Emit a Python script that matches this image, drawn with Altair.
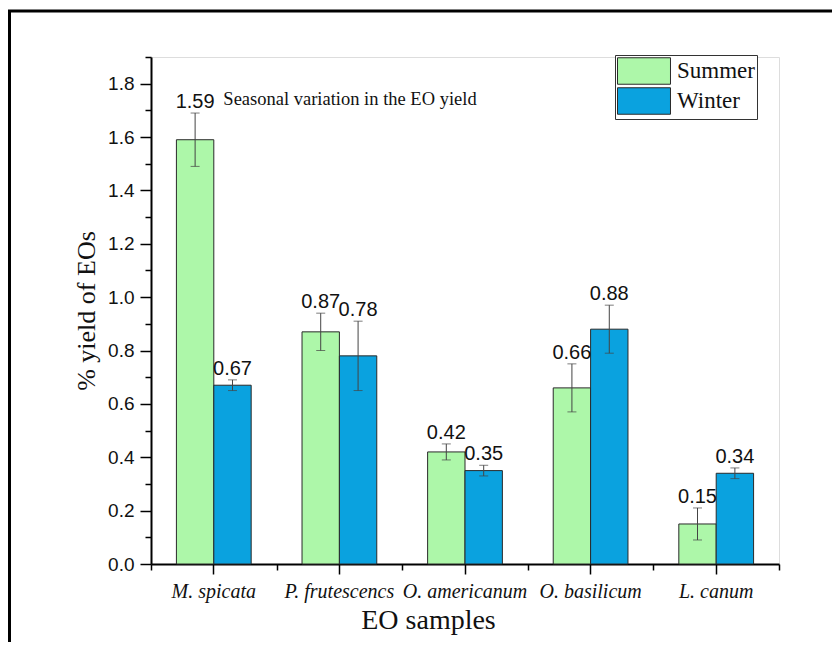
import altair as alt
import pandas as pd

categories = ["M. spicata", "P. frutescencs", "O. americanum", "O. basilicum", "L. canum"]
seasons = ["Summer", "Winter"]
summer = [1.59, 0.87, 0.42, 0.66, 0.15]
winter = [0.67, 0.78, 0.35, 0.88, 0.34]
summer_err = [0.10, 0.07, 0.03, 0.09, 0.06]
winter_err = [0.02, 0.13, 0.02, 0.09, 0.02]
colors = ["#adf7a9", "#0aa2df"]
y_major = [0.0, 0.2, 0.4, 0.6, 0.8, 1.0, 1.2, 1.4, 1.6, 1.8]
y_minor = [0.1, 0.3, 0.5, 0.7, 0.9, 1.1, 1.3, 1.5, 1.7, 1.9]
chart_title = "Seasonal variation in the EO yield"

rows = []
for i, c in enumerate(categories):
    rows.append(dict(sample=c, season="Summer", value=summer[i], err=summer_err[i]))
    rows.append(dict(sample=c, season="Winter", value=winter[i], err=winter_err[i]))
df = pd.DataFrame(rows)
df["lo"] = df["value"] - df["err"]
df["hi"] = df["value"] + df["err"]
df["label"] = df["value"].map(lambda v: f"{v:.2f}")

SERIF = "Liberation Serif"
SANS = "Liberation Sans"

xscale = alt.Scale(paddingInner=0, paddingOuter=0)
yscale = alt.Scale(domain=[0, 1.9], nice=False, zero=True)
offscale = alt.Scale(domain=seasons, paddingInner=0, paddingOuter=0.68)

x_main = alt.X(
    "sample:N", sort=categories, scale=xscale,
    axis=alt.Axis(
        orient="bottom", title="EO samples", labelAngle=0,
        labelFont=SERIF, labelFontStyle="italic", labelFontSize=20, labelColor="#111",
        labelPadding=7, labelOverlap=False, labelBound=False, labelLimit=300,
        tickSize=10, tickWidth=1.5, tickColor="black",
        domainColor="black", domainWidth=2, grid=False,
        titleFont=SERIF, titleFontSize=28, titleFontWeight="normal", titleColor="#111",
        titleX=277, titleY=42, titleBaseline="top", titleAlign="center",
    ),
)
x_minor = alt.X(
    "sample:N", sort=categories, scale=xscale,
    axis=alt.Axis(
        orient="bottom", tickBand="extent", labels=False, domain=False, title=None,
        tickSize=6, tickWidth=1.5, tickColor="black", grid=False,
    ),
)
x_none = alt.X("sample:N", sort=categories, scale=xscale, axis=None)
xoff = alt.XOffset("season:N", sort=seasons, scale=offscale)

y_main_axis = alt.Axis(
    orient="left", values=y_major, format=".1f", title="% yield of EOs",
    labelFont=SANS, labelFontSize=19, labelColor="#111", labelPadding=6,
    tickSize=11, tickWidth=1.5, tickColor="black",
    domainColor="black", domainWidth=2, grid=False,
    titleFont=SERIF, titleFontSize=26, titleFontWeight="normal", titleColor="#111",
    titlePadding=8,
)
y_minor_axis = alt.Axis(
    orient="left", values=y_minor, labels=False, domain=False, title=None,
    tickSize=6, tickWidth=1.5, tickColor="black", grid=False,
)

base = alt.Chart(df)
one = pd.DataFrame({"t": [chart_title]})

frame = alt.Chart(one).mark_rect(
    filled=False, stroke="black", strokeWidth=3
).encode(
    x=alt.value(-141.5), x2=alt.value(1200), y=alt.value(-46), y2=alt.value(1200)
)

title = alt.Chart(one).mark_text(
    font=SERIF, fontSize=18.5, color="#111", align="center", baseline="alphabetic"
).encode(x=alt.value(199), y=alt.value(48), text="t:N")

bars = base.mark_bar(stroke="#2a2a2a", strokeWidth=1).encode(
    x=x_main,
    xOffset=xoff,
    y=alt.Y("value:Q", scale=yscale, axis=y_main_axis),
    color=alt.Color(
        "season:N", sort=seasons, scale=alt.Scale(domain=seasons, range=colors),
        legend=alt.Legend(
            title=None, orient="none", legendX=464, legendY=-2, direction="vertical",
            strokeColor="#333", fillColor="white", padding=2,
            symbolType="M-2,-1H2V1H-2Z", symbolSize=702, symbolOffset=13,
            symbolStrokeColor="#2a2a2a", symbolStrokeWidth=1, symbolOpacity=1,
            labelFont=SERIF, labelFontSize=23, labelColor="#111", labelOffset=19,
            rowPadding=-2,
        ),
    ),
)

caps_hi = base.mark_tick(color="#444", size=9, thickness=1).encode(
    x=x_minor, xOffset=xoff, y=alt.Y("hi:Q", scale=yscale, axis=y_minor_axis)
)
caps_lo = base.mark_tick(color="#444", size=9, thickness=1).encode(
    x=x_none, xOffset=xoff, y=alt.Y("lo:Q", scale=yscale, axis=None)
)
rules = base.mark_rule(color="#444", strokeWidth=1).encode(
    x=x_none, xOffset=xoff,
    y=alt.Y("lo:Q", scale=yscale, axis=None), y2="hi:Q",
)
labels = base.mark_text(
    font=SANS, fontSize=20, color="#111", baseline="alphabetic", dy=-5
).encode(
    x=x_none, xOffset=xoff,
    y=alt.Y("hi:Q", scale=yscale, axis=None), text="label:N",
)

chart = alt.layer(frame, title, bars, rules, caps_hi, caps_lo, labels).resolve_scale(
    x="shared", y="shared"
).resolve_axis(
    x="independent", y="independent"
).properties(
    width=628, height=507,
    autosize=alt.AutoSizeParams(type="none"),
    padding={"left": 143, "top": 49, "right": 53, "bottom": 78},
).configure_view(stroke=None).configure(background="white")

chart.save("out.html", embed_options={"renderer": "svg", "actions": False})
